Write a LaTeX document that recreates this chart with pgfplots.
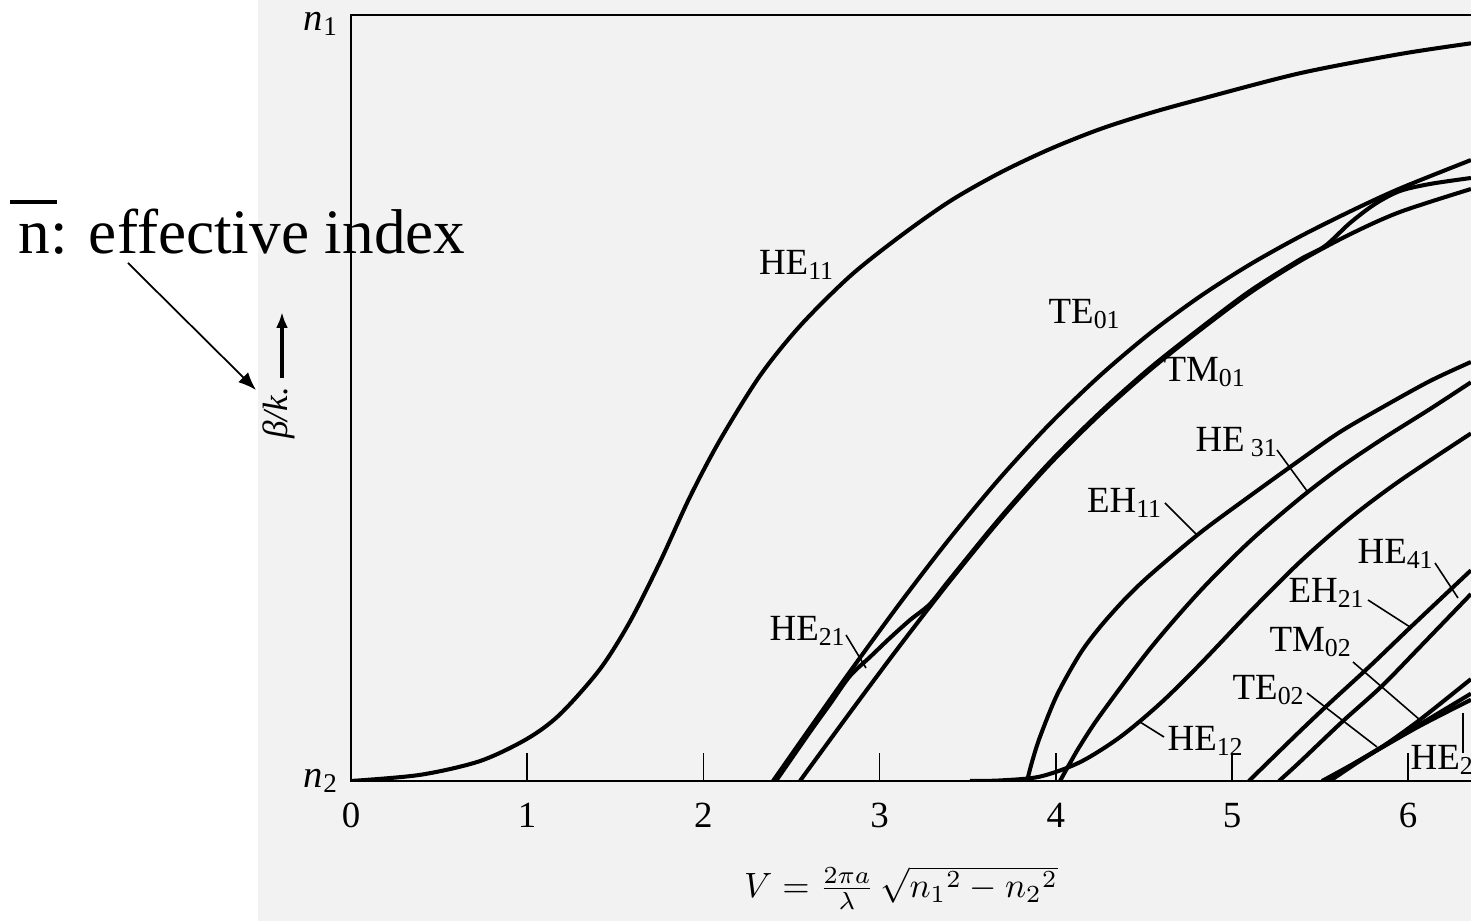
\documentclass[border=0pt]{standalone}
\usepackage{fontspec}
\setmainfont{Liberation Serif}
\usepackage{pgfplots}
\pgfplotsset{compat=1.18}
\usetikzlibrary{arrows.meta}
\pgfplotsset{curve/.style={black, line width=1.15pt, smooth, tension=0.5, mark=none}}
\newcommand{\lab}{\fontsize{10.5}{12}\selectfont}
\begin{document}
\begin{tikzpicture}[x=1cm,y=1cm]
\useasboundingbox (0,0) rectangle (14.71,9.21);
\clip (0,0) rectangle (14.71,9.21);
\fill[black!5] (2.58,0) rectangle (14.71,9.21);
\begin{axis}[
  at={(3.51cm,1.40cm)}, anchor=south west,
  scale only axis, width=11.629cm, height=7.66cm,
  xmin=0, xmax=6.6, ymin=0, ymax=1,
  axis line style={line width=0.6pt},
  xtick={0,1,2,3,4,5,6}, xtick pos=left, tick align=inside,
  major tick length=0.28cm,
  xtick style={line width=0.45pt, black},
  ytick={0,1},
  yticklabels={\textit{n}\textsubscript{2},\raisebox{-0.9mm}[\height][\depth]{\textit{n}\textsubscript{1}}},
  ytick style={draw=none},
  /pgf/number format/assume math mode=true,
  tick label style={font=\lab},
  xticklabel style={yshift=-0.1cm},
  yticklabel style={font=\fontsize{11}{12}\selectfont},
]
% HE11
\addplot[curve] coordinates {(0,0) (0.392,0.008) (0.732,0.026) (0.999,0.055) (1.186,0.087) (1.413,0.146) (1.583,0.208) (1.754,0.286) (1.924,0.371) (2.094,0.445) (2.321,0.529) (2.548,0.594) (2.832,0.659) (3.116,0.711) (3.400,0.757) (3.683,0.794) (3.967,0.825) (4.251,0.851) (4.535,0.872) (4.818,0.890) (5.386,0.924) (5.953,0.949) (6.356,0.963)};
% TE01
\addplot[curve] coordinates {(2.395,0) (2.605,0.069) (2.832,0.1428) (3.116,0.2322) (3.400,0.3171) (3.683,0.3954) (3.967,0.4664) (4.251,0.5292) (4.535,0.5845) (4.818,0.6325) (5.102,0.6743) (5.386,0.7108) (5.670,0.7435) (5.953,0.7735) (6.356,0.8106)};
% TM01
\addplot[curve] coordinates {(2.548,0) (2.832,0.0893) (3.116,0.1769) (3.400,0.2612) (3.683,0.3409) (3.967,0.4140) (4.251,0.4787) (4.535,0.5366) (4.818,0.5885) (5.102,0.6372) (5.386,0.6787) (5.670,0.7137) (5.953,0.7428) (6.356,0.7728)};
% HE21
\addplot[curve] coordinates {(2.412,0) (2.605,0.0640) (2.719,0.1005) (2.832,0.1371) (2.946,0.1619) (3.059,0.1867) (3.173,0.2102) (3.286,0.2311) (3.400,0.2637) (3.683,0.3433) (3.967,0.4164) (4.251,0.4811) (4.535,0.5392) (4.818,0.5907) (5.102,0.6397) (5.386,0.6808) (5.528,0.6984) (5.670,0.7285) (5.812,0.7533) (5.953,0.7702) (6.124,0.7794) (6.356,0.7872)};
% EH11
\addplot[curve] coordinates {(3.837,0) (3.865,0.0248) (3.910,0.0574) (4.007,0.1123) (4.137,0.1658) (4.251,0.2010) (4.393,0.2376) (4.535,0.2689) (4.818,0.3238) (5.102,0.3721) (5.386,0.4191) (5.613,0.4556) (5.857,0.4883) (6.124,0.5222) (6.356,0.5470)};
% HE31
\addplot[curve] coordinates {(4.024,0) (4.081,0.0235) (4.137,0.0457) (4.251,0.0855) (4.535,0.1726) (4.818,0.2477) (5.102,0.3130) (5.386,0.3691) (5.613,0.4091) (5.857,0.4470) (6.124,0.4856) (6.356,0.5205)};
% HE12
\addplot[curve] coordinates {(3.513,0) (3.683,0.0007) (3.910,0.0057) (4.137,0.0245) (4.364,0.0572) (4.591,0.1008) (4.818,0.1522) (5.102,0.2208) (5.386,0.2860) (5.670,0.3431) (5.953,0.3920) (6.356,0.4537)};
% EH21
\addplot[curve] coordinates {(5.096,0) (5.216,0.027) (5.386,0.065) (5.556,0.102) (5.783,0.150) (6.010,0.200) (6.356,0.275)};
% HE41
\addplot[curve] coordinates {(5.267,0) (5.386,0.025) (5.624,0.077) (5.851,0.124) (6.067,0.175) (6.356,0.244)};
% TE02
\addplot[curve] coordinates {(5.511,0) (5.670,0.020) (5.823,0.040) (6.067,0.072) (6.356,0.106)};
% HE22
\addplot[curve] coordinates {(5.533,0) (5.681,0.021) (5.840,0.043) (6.067,0.074) (6.356,0.114)};
% TM02
\addplot[curve] coordinates {(5.556,0) (5.698,0.022) (5.868,0.047) (6.067,0.080) (6.356,0.133)};
\end{axis}
% mode labels (pixel/100, y flipped)
\node[font=\lab] at (7.97,6.56) {HE\textsubscript{11}};
\node[font=\lab] at (10.85,6.07) {TE\textsubscript{01}};
\node[font=\lab] at (12.05,5.49) {TM\textsubscript{01}};
\node[font=\lab] at (8.08,2.90) {HE\textsubscript{21}};
\node[font=\lab] at (12.37,4.79) {HE\,\textsubscript{31}};
\node[font=\lab] at (11.25,4.18) {EH\textsubscript{11}};
\node[font=\lab] at (12.06,1.80) {HE\textsubscript{12}};
\node[font=\lab] at (13.96,3.67) {HE\textsubscript{41}};
\node[font=\lab] at (13.27,3.28) {EH\textsubscript{21}};
\node[font=\lab] at (13.11,2.79) {TM\textsubscript{02}};
\node[font=\lab] at (12.69,2.31) {TE\textsubscript{02}};
\node[font=\lab, anchor=west, inner sep=0pt] at (14.10,1.61) {HE\textsubscript{22}};
% pointer lines
\begin{scope}[line width=0.45pt]
\draw (8.46,2.86) -- (8.66,2.53);
\draw (12.77,4.71) -- (13.07,4.30);
\draw (11.65,4.18) -- (11.97,3.86);
\draw (11.40,1.99) -- (11.64,1.84);
\draw (14.35,3.58) -- (14.58,3.23);
\draw (13.68,3.21) -- (14.10,2.94);
\draw (13.53,2.59) -- (14.20,2.01);
\draw (13.07,2.28) -- (13.77,1.74);
\draw (14.63,1.68) -- (14.63,2.08);
\end{scope}
% axis title and y label
\node at (9.01,0.33) {$V=\frac{2\pi a}{\lambda}\,\sqrt{{n_1}^{2}-{n_2}^{2}}$};
\node[rotate=90, font=\fontsize{10}{12}\selectfont\itshape] at (2.79,5.08) {β/k.};
\draw[line width=1pt, -{Latex[length=0.16cm,width=0.12cm]}] (2.82,5.43) -- (2.82,6.09);
% annotation
\node[anchor=base west, inner sep=0pt, font=\fontsize{18}{20}\selectfont] at (0.18,6.67) {n: effective index};
\draw[line width=0.9pt] (0.10,7.19) -- (0.57,7.19);
\draw[line width=0.5pt, -{Latex[length=0.18cm,width=0.14cm]}] (1.28,6.58) -- (2.56,5.31);
\end{tikzpicture}
\end{document}
